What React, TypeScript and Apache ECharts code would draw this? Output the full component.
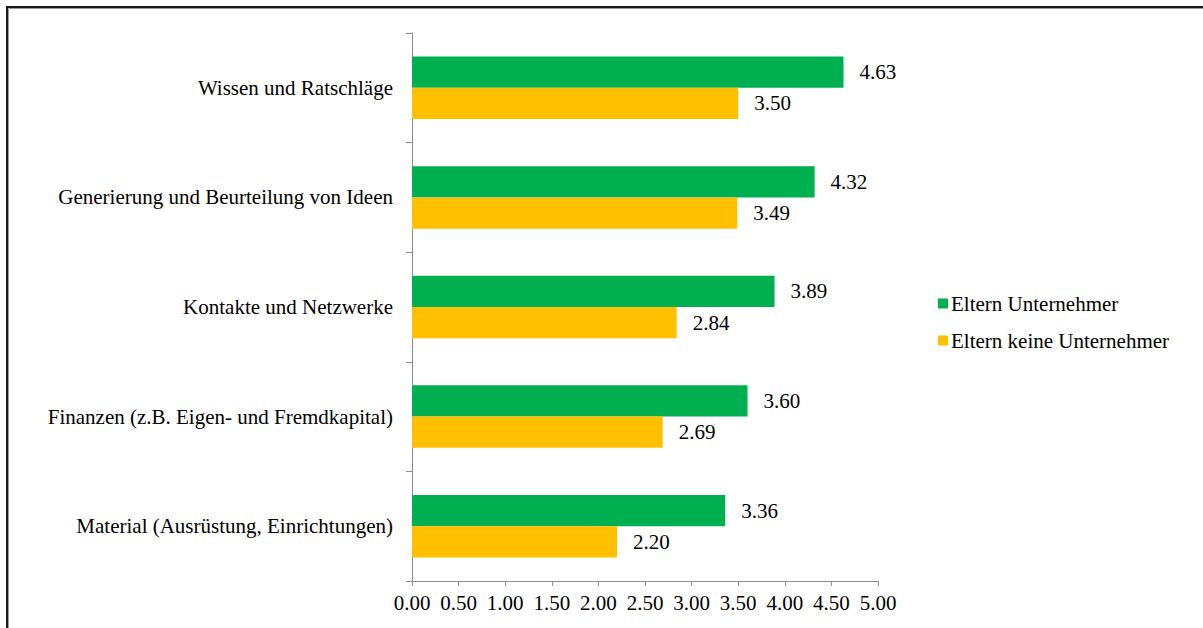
import React, { useEffect, useRef } from "react";
import * as echarts from "echarts";

const categories = [
  "Wissen und Ratschläge",
  "Generierung und Beurteilung von Ideen",
  "Kontakte und Netzwerke",
  "Finanzen (z.B. Eigen- und Fremdkapital)",
  "Material (Ausrüstung, Einrichtungen)",
];
const seriesNames = ["Eltern Unternehmer", "Eltern keine Unternehmer"];
const elternUnternehmer = [4.63, 4.32, 3.89, 3.6, 3.36];
const elternKeineUnternehmer = [3.5, 3.49, 2.84, 2.69, 2.2];

const FONT = "Liberation Serif";
const FS = 21;

export default function App() {
  const ref = useRef<HTMLDivElement>(null);
  useEffect(() => {
    if (!ref.current) return;
    const chart = echarts.init(ref.current, undefined, { renderer: "svg" });
    const label = {
      show: true,
      position: "right" as const,
      distance: 16,
      color: "#000",
      fontFamily: FONT,
      fontSize: FS,
      formatter: (p: any) => Number(p.value).toFixed(2),
    };
    chart.setOption({
      animation: false,
      backgroundColor: "#fff",
      textStyle: { fontFamily: FONT },
      graphic: [
        {
          type: "rect",
          shape: { x: 7, y: 7, width: 1300, height: 700 },
          style: { fill: "none", stroke: "#1a1a1a", lineWidth: 2 },
        },
        {
          type: "rect",
          shape: { x: 8.5, y: 8.5, width: 1300, height: 700 },
          style: { fill: "none", stroke: "#9a9a9a", lineWidth: 1 },
        },
      ],
      legend: {
        orient: "vertical",
        left: 933,
        top: 288,
        itemWidth: 10,
        itemHeight: 10,
        itemGap: 16,
        icon: "rect",
        data: seriesNames,
        textStyle: { fontFamily: FONT, fontSize: FS, color: "#000", padding: [0, 0, 0, -2] },
      },
      grid: { left: 412, right: 325, top: 33, bottom: 47, containLabel: false },
      xAxis: {
        type: "value",
        min: 0,
        max: 5,
        interval: 0.5,
        axisLine: { show: true, lineStyle: { color: "#8c8c8c" } },
        axisTick: { show: true, length: 5, lineStyle: { color: "#8c8c8c" } },
        splitLine: { show: false },
        axisLabel: {
          color: "#000",
          fontFamily: FONT,
          fontSize: FS,
          margin: 11,
          formatter: (v: number) => v.toFixed(2),
        },
      },
      yAxis: {
        type: "category",
        inverse: true,
        data: categories,
        axisLine: { show: true, lineStyle: { color: "#8c8c8c" } },
        axisTick: { show: true, length: 6, lineStyle: { color: "#8c8c8c" } },
        axisLabel: { color: "#000", fontFamily: FONT, fontSize: FS, margin: 19 },
      },
      series: [
        {
          name: seriesNames[0],
          type: "bar",
          data: elternUnternehmer,
          itemStyle: { color: "#00B050" },
          barGap: "0%",
          barCategoryGap: "43%",
          label,
        },
        {
          name: seriesNames[1],
          type: "bar",
          data: elternKeineUnternehmer,
          itemStyle: { color: "#FFC000" },
          barGap: "0%",
          barCategoryGap: "43%",
          label,
        },
      ],
    });
    return () => chart.dispose();
  }, []);
  return (
    <div
      ref={ref}
      style={{ position: "fixed", left: 0, top: 0, width: 1203, height: 628 }}
    />
  );
}
